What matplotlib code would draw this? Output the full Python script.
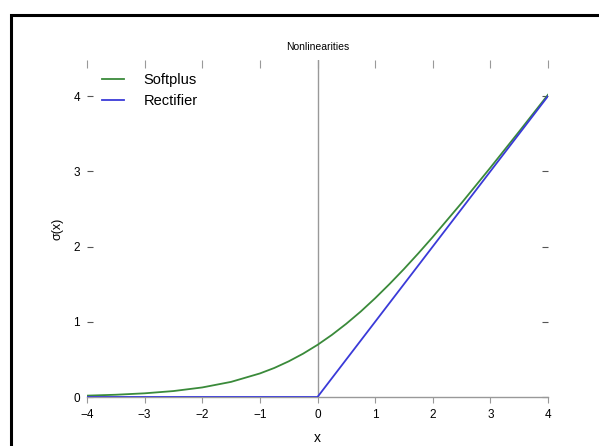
import numpy as np
import matplotlib
matplotlib.use("Agg")
import matplotlib.pyplot as plt
from matplotlib.patches import Rectangle

plt.rcParams['font.family'] = ['Liberation Sans', 'DejaVu Sans']

# values
x_soft = [-4, -3.5, -3, -2.5, -2, -1.5, -1, -0.75, -0.5, -0.25, 0, 0.25, 0.5,
          0.75, 1, 1.25, 1.5, 1.75, 2, 2.5, 3, 3.5, 4]
y_soft = [0.018, 0.03, 0.049, 0.079, 0.127, 0.201, 0.313, 0.386, 0.474, 0.576,
          0.693, 0.826, 0.974, 1.136, 1.313, 1.502, 1.701, 1.91, 2.127, 2.579,
          3.049, 3.53, 4.018]
x_relu = [-4, 0, 4]
y_relu = [0, 0, 4]
x_ticks = [-4, -3, -2, -1, 0, 1, 2, 3, 4]
y_ticks = [0, 1, 2, 3, 4]

fig = plt.figure(figsize=(5.99, 4.46), dpi=100)
ax = fig.add_axes([87 / 599, 1 - 397 / 446, 461 / 599, 337 / 446])

# outer frame around the figure
fig.patches.append(Rectangle((11 / 599, -0.1), 1.0, 1 - 15 / 446 + 0.1,
                             transform=fig.transFigure, fill=False,
                             edgecolor='black', linewidth=2.2))

ax.axvline(0, color='#999999', linewidth=1.0, zorder=1)
ax.plot(x_soft, y_soft, color='#3a8a3a', linewidth=1.3, label='Softplus', zorder=3)
ax.plot(x_relu, y_relu, color='#3a3ad8', linewidth=1.3, label='Rectifier', zorder=4)

ax.set_xlim(-4, 4)
ax.set_ylim(0, 4.48)
ax.set_xticks(x_ticks)
ax.set_yticks(y_ticks)

for s in ['top', 'left', 'right']:
    ax.spines[s].set_visible(False)
ax.spines['bottom'].set_color('#999999')
ax.spines['bottom'].set_linewidth(1.0)

ax.tick_params(axis='x', direction='out', length=4, width=0.8, color='#999999',
               labelsize=8.5, pad=5, top=True)
ax.tick_params(axis='x', which='major', labeltop=False)
ax.tick_params(axis='y', direction='in', length=4, width=0.8, color='#555555',
               labelsize=8.5, pad=5, right=True)
# top ticks point inward
for t in ax.xaxis.get_major_ticks():
    t.tick2line.set_marker(3)
    t.tick2line.set_markersize(6)

ax.set_title('Nonlinearities', fontsize=7.5, pad=7)
ax.set_xlabel('x', fontsize=10, labelpad=7)
ax.set_ylabel('σ(x)', fontsize=9, labelpad=7)

ax.legend(loc='upper left', frameon=False, fontsize=10.5, handlelength=1.5,
          handletextpad=1.3, labelspacing=0.45, bbox_to_anchor=(0.005, 0.999))

fig.savefig('out.png', dpi=100)
